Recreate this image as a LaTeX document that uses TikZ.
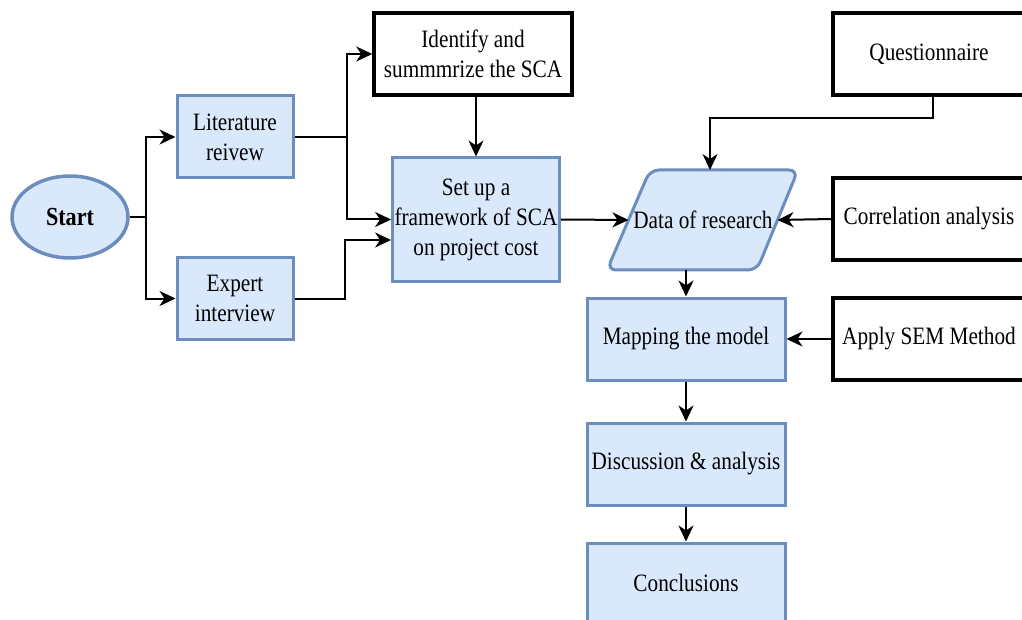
\documentclass[tikz,border=0pt]{standalone}
\usepackage{fontspec}
\setmainfont{Liberation Serif}[FakeStretch=0.85]
\usetikzlibrary{shapes.geometric,arrows.meta,calc}
\definecolor{bfill}{HTML}{DAE8FC}
\definecolor{bline}{HTML}{6C8EBF}
\begin{document}
\begin{tikzpicture}[x=1pt,y=-1pt,
  every node/.style={font=\fontsize{25}{30}\selectfont, align=center, inner sep=2pt},
  bluebox/.style={draw=bline, fill=bfill, line width=3pt, minimum width=116pt, minimum height=82pt},
  blackbox/.style={draw=black, fill=white, line width=3.5pt, minimum width=192pt, minimum height=82pt},
  arr/.style={line width=2pt, -{Stealth[length=16pt,width=15pt,inset=5pt]}},
  ln/.style={line width=2pt}]
\useasboundingbox (0,0) rectangle (1022,620);
\clip (0,0) rectangle (1022,620);

\node[ellipse, draw=bline, fill=bfill, line width=3.5pt, minimum width=116pt, minimum height=82pt, font=\fontsize{26}{30}\selectfont\bfseries] (start) at (70,217) {Start};
\node[bluebox] (lit) at (235,137) {Literature\\reivew};
\node[bluebox] (exp) at (235,298.5) {Expert\\interview};
\node[draw=black, fill=white, line width=3.5pt, minimum width=198pt, minimum height=82pt] (ident) at (473,54) {Identify and\\summmrize the SCA};
\node[bluebox, minimum width=164pt, minimum height=123pt] (setup) at (476,219.5) {Set up a\\framework of SCA\\on project cost};
% parallelogram for "Data of research"
\draw[draw=bline, fill=bfill, line width=3pt, rounded corners=9pt]
  (607,270) -- (650,170) -- (798,170) -- (757,270) -- cycle;
\node[minimum width=149pt, minimum height=100pt, inner sep=0pt, outer sep=0pt] (data) at (703,220) {Data of research};
\node[blackbox] (quest) at (929,54) {Questionnaire};
\node[blackbox] (corr) at (929,219) {Correlation analysis};
\node[bluebox, minimum width=198pt] (map) at (686,339) {Mapping the model};
\node[blackbox] (sem) at (929,339) {Apply SEM Method};
\node[bluebox, minimum width=198pt] (disc) at (686,464) {Discussion \& analysis};
\node[bluebox, minimum width=198pt, minimum height=80pt] (concl) at (686,583) {Conclusions};

\draw[ln] (start.east) -- ++(16,0) coordinate (sj);
\draw[arr] (sj) |- (lit.west);
\draw[arr] (sj) |- (exp.west);
\draw[ln] (lit.east) -- ++(52,0) coordinate (lj);
\draw[arr] (lj) |- (ident.west);
\draw[arr] (lj) |- (setup.west);
\draw[arr] (exp.east) -- ++(50,0) |- ([yshift=-20.5pt]setup.west);
\draw[arr] (setup.north |- ident.south) -- (setup.north);
\draw[arr] (setup.east) -- (data.west);
\draw[arr] ([xshift=4pt]quest.south) -- ++(0,21) -| ([xshift=7pt]data.north);
\draw[arr] (corr.west) -- (data.east);
\draw[arr] (map.north |- data.south) -- (map.north);
\draw[arr] (sem.west) -- (map.east);
\draw[arr] (map.south) -- (disc.north);
\draw[arr] (disc.south) -- (concl.north);
\end{tikzpicture}
\end{document}
